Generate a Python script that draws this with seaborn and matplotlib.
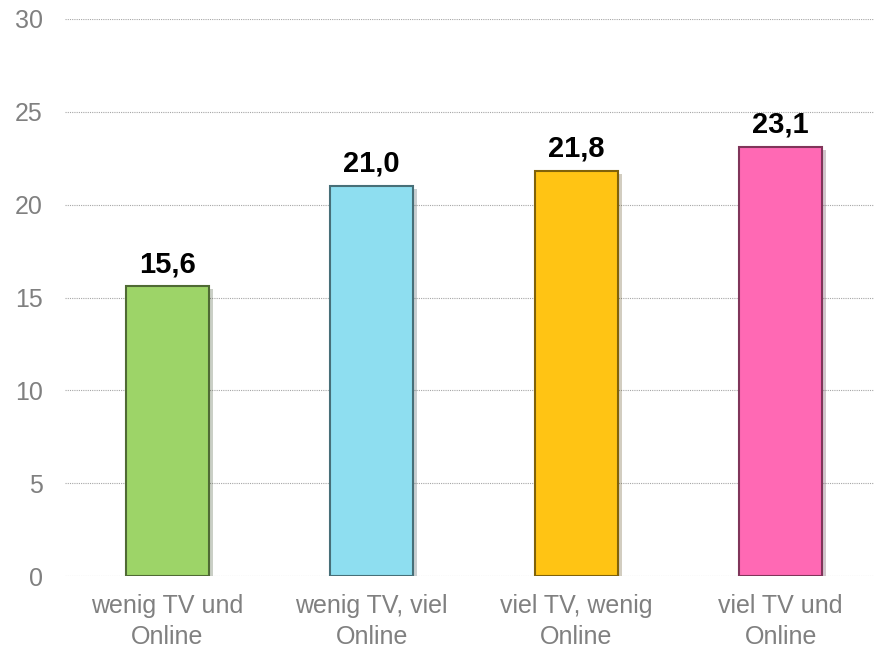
import pandas as pd
import seaborn as sns
import matplotlib.pyplot as plt
import matplotlib.patheffects as pe
from matplotlib.colors import to_rgb

# Data
categories = ["wenig TV und\nOnline", "wenig TV, viel\nOnline", "viel TV, wenig\nOnline", "viel TV und\nOnline"]
values = [15.6, 21.0, 21.8, 23.1]
labels = ["15,6", "21,0", "21,8", "23,1"]
colors = ["#9DD468", "#8EDEF0", "#FFC414", "#FF69B4"]

df = pd.DataFrame({"group": categories, "value": values})

sns.set_style("white")
plt.rcParams["font.family"] = ["Liberation Sans", "DejaVu Sans"]

fig = plt.figure(figsize=(8.74, 6.51), dpi=100)
ax = fig.add_axes([65 / 874, 1 - 576 / 651, 809 / 874, 557 / 651])

sns.barplot(data=df, x="group", y="value", hue="group", palette=colors,
            saturation=1, width=0.405, legend=False, ax=ax, zorder=3)

# darker edges + soft shadow to hint the bevel look
for bar, c in zip(ax.patches, colors):
    r, g, b = to_rgb(c)
    bar.set_edgecolor((r * 0.5, g * 0.5, b * 0.5))
    bar.set_linewidth(1.5)
    bar.set_path_effects([pe.SimplePatchShadow(offset=(3, -2), alpha=0.25), pe.Normal()])

for i, (v, t) in enumerate(zip(values, labels)):
    ax.text(i, v + 0.45, t, ha="center", va="bottom", fontsize=21, fontweight="bold", color="black")

ax.set_ylim(0, 30)
ax.set_xlim(-0.5, 3.456)
ax.set_yticks(range(0, 31, 5))
ax.yaxis.grid(True, linestyle=(0, (1, 1)), color="#A6A6A6", linewidth=0.8, zorder=0)
ax.xaxis.grid(False)
for s in ax.spines.values():
    s.set_visible(False)
ax.tick_params(axis="both", length=0, labelsize=18, labelcolor="#808080")
ax.tick_params(axis="y", pad=16)
ax.tick_params(axis="x", pad=13)
for lbl in ax.get_xticklabels():
    lbl.set_linespacing(1.35)
ax.set_xlabel("")
ax.set_ylabel("")

plt.savefig("out.png", dpi=100)
